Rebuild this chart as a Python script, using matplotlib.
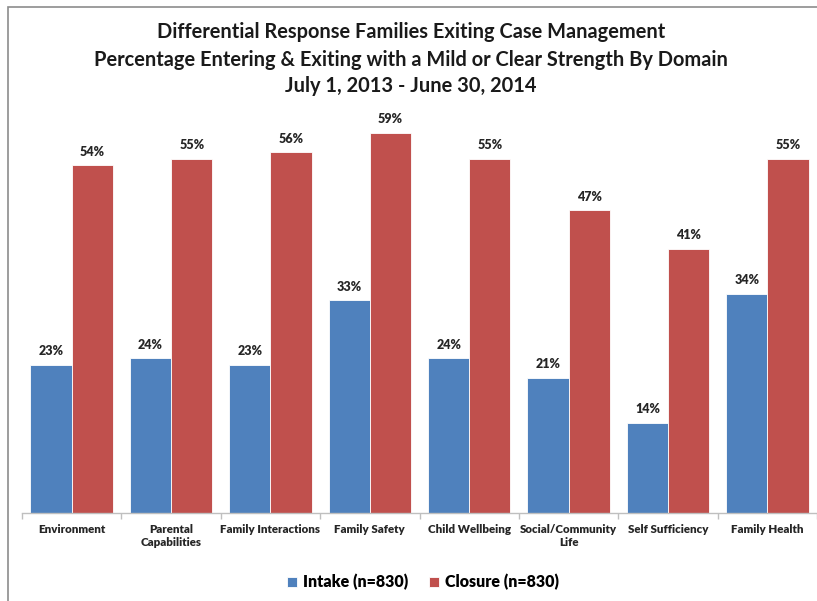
import matplotlib
matplotlib.use("Agg")
import matplotlib.pyplot as plt
import numpy as np
from matplotlib.patches import Rectangle

categories = ["Environment", "Parental\nCapabilities", "Family Interactions", "Family Safety",
              "Child Wellbeing", "Social/Community\nLife", "Self Sufficiency", "Family Health"]
intake = [23, 24, 23, 33, 24, 21, 14, 34]
closure = [54, 55, 56, 59, 55, 47, 41, 55]
series_names = ["Intake (n=830)", "Closure (n=830)"]
title_lines = ["Differential Response Families Exiting Case Management",
               "Percentage Entering & Exiting with a Mild or Clear Strength By Domain",
               "July 1, 2013 - June 30, 2014"]

BLUE = "#4F81BD"
RED = "#C0504D"
FONT = ["Lato", "DejaVu Sans"]

W, H = 817, 601
fig = plt.figure(figsize=(W / 100, H / 100), dpi=100)
fig.patch.set_facecolor("white")

# outer frame (only top and left edges fall inside the canvas)
fig.patches.append(Rectangle((8 / W, -0.05), 1.2, (H - 7) / H + 0.05,
                             transform=fig.transFigure, fill=False,
                             edgecolor="#8c8c8c", linewidth=1.2))

ax_left, ax_right = 22 / W, 817 / W
ax_bottom = (H - 513) / H
ymax = 62
ax_top = (H - (513 - ymax * 6.44)) / H
ax = fig.add_axes([ax_left, ax_bottom, ax_right - ax_left, ax_top - ax_bottom])

x = np.arange(len(categories))
bw = 0.415
b1 = ax.bar(x - bw / 2, intake, width=bw, color=BLUE, edgecolor="white", linewidth=0.6,
            label=series_names[0])
b2 = ax.bar(x + bw / 2, closure, width=bw, color=RED, edgecolor="white", linewidth=0.6,
            label=series_names[1])

for bars, vals in ((b1, intake), (b2, closure)):
    for rect, v in zip(bars, vals):
        ax.annotate(f"{v}%", (rect.get_x() + rect.get_width() / 2, v),
                    xytext=(0, 5.5), textcoords="offset points", ha="center", va="bottom",
                    fontsize=9, fontweight="heavy", color="#262626", family=FONT)

ax.set_xlim(-0.5, len(categories) - 0.5)
ax.set_ylim(0, ymax)
ax.set_yticks([])
for s in ("top", "right", "left"):
    ax.spines[s].set_visible(False)
ax.spines["bottom"].set_color("#bfbfbf")
ax.spines["bottom"].set_linewidth(1.0)

ax.set_xticks(x)
ax.set_xticklabels(categories, fontsize=8.3, fontweight="heavy", color="#262626",
                   family=FONT, linespacing=1.25)
ax.tick_params(axis="x", length=0, pad=8)
ax.set_xticks(np.arange(len(categories) + 1) - 0.5, minor=True)
ax.tick_params(axis="x", which="minor", length=4, color="#bfbfbf", width=1.0)

for line, ypix in zip(title_lines, (38, 66, 92)):
    fig.text(0.503, (H - ypix) / H, line, ha="center", va="baseline",
             fontsize=14.4, fontweight="bold", color="#1a1a1a", family=FONT)

fig.legend(handles=[b1, b2], loc="center", bbox_to_anchor=(423 / W, (H - 582) / H),
           ncol=2, frameon=False,
           prop={"family": FONT, "weight": "heavy", "size": 11.5},
           handlelength=0.6, handleheight=0.6, handletextpad=0.4, columnspacing=1.3)

fig.savefig("out.png", dpi=100)
